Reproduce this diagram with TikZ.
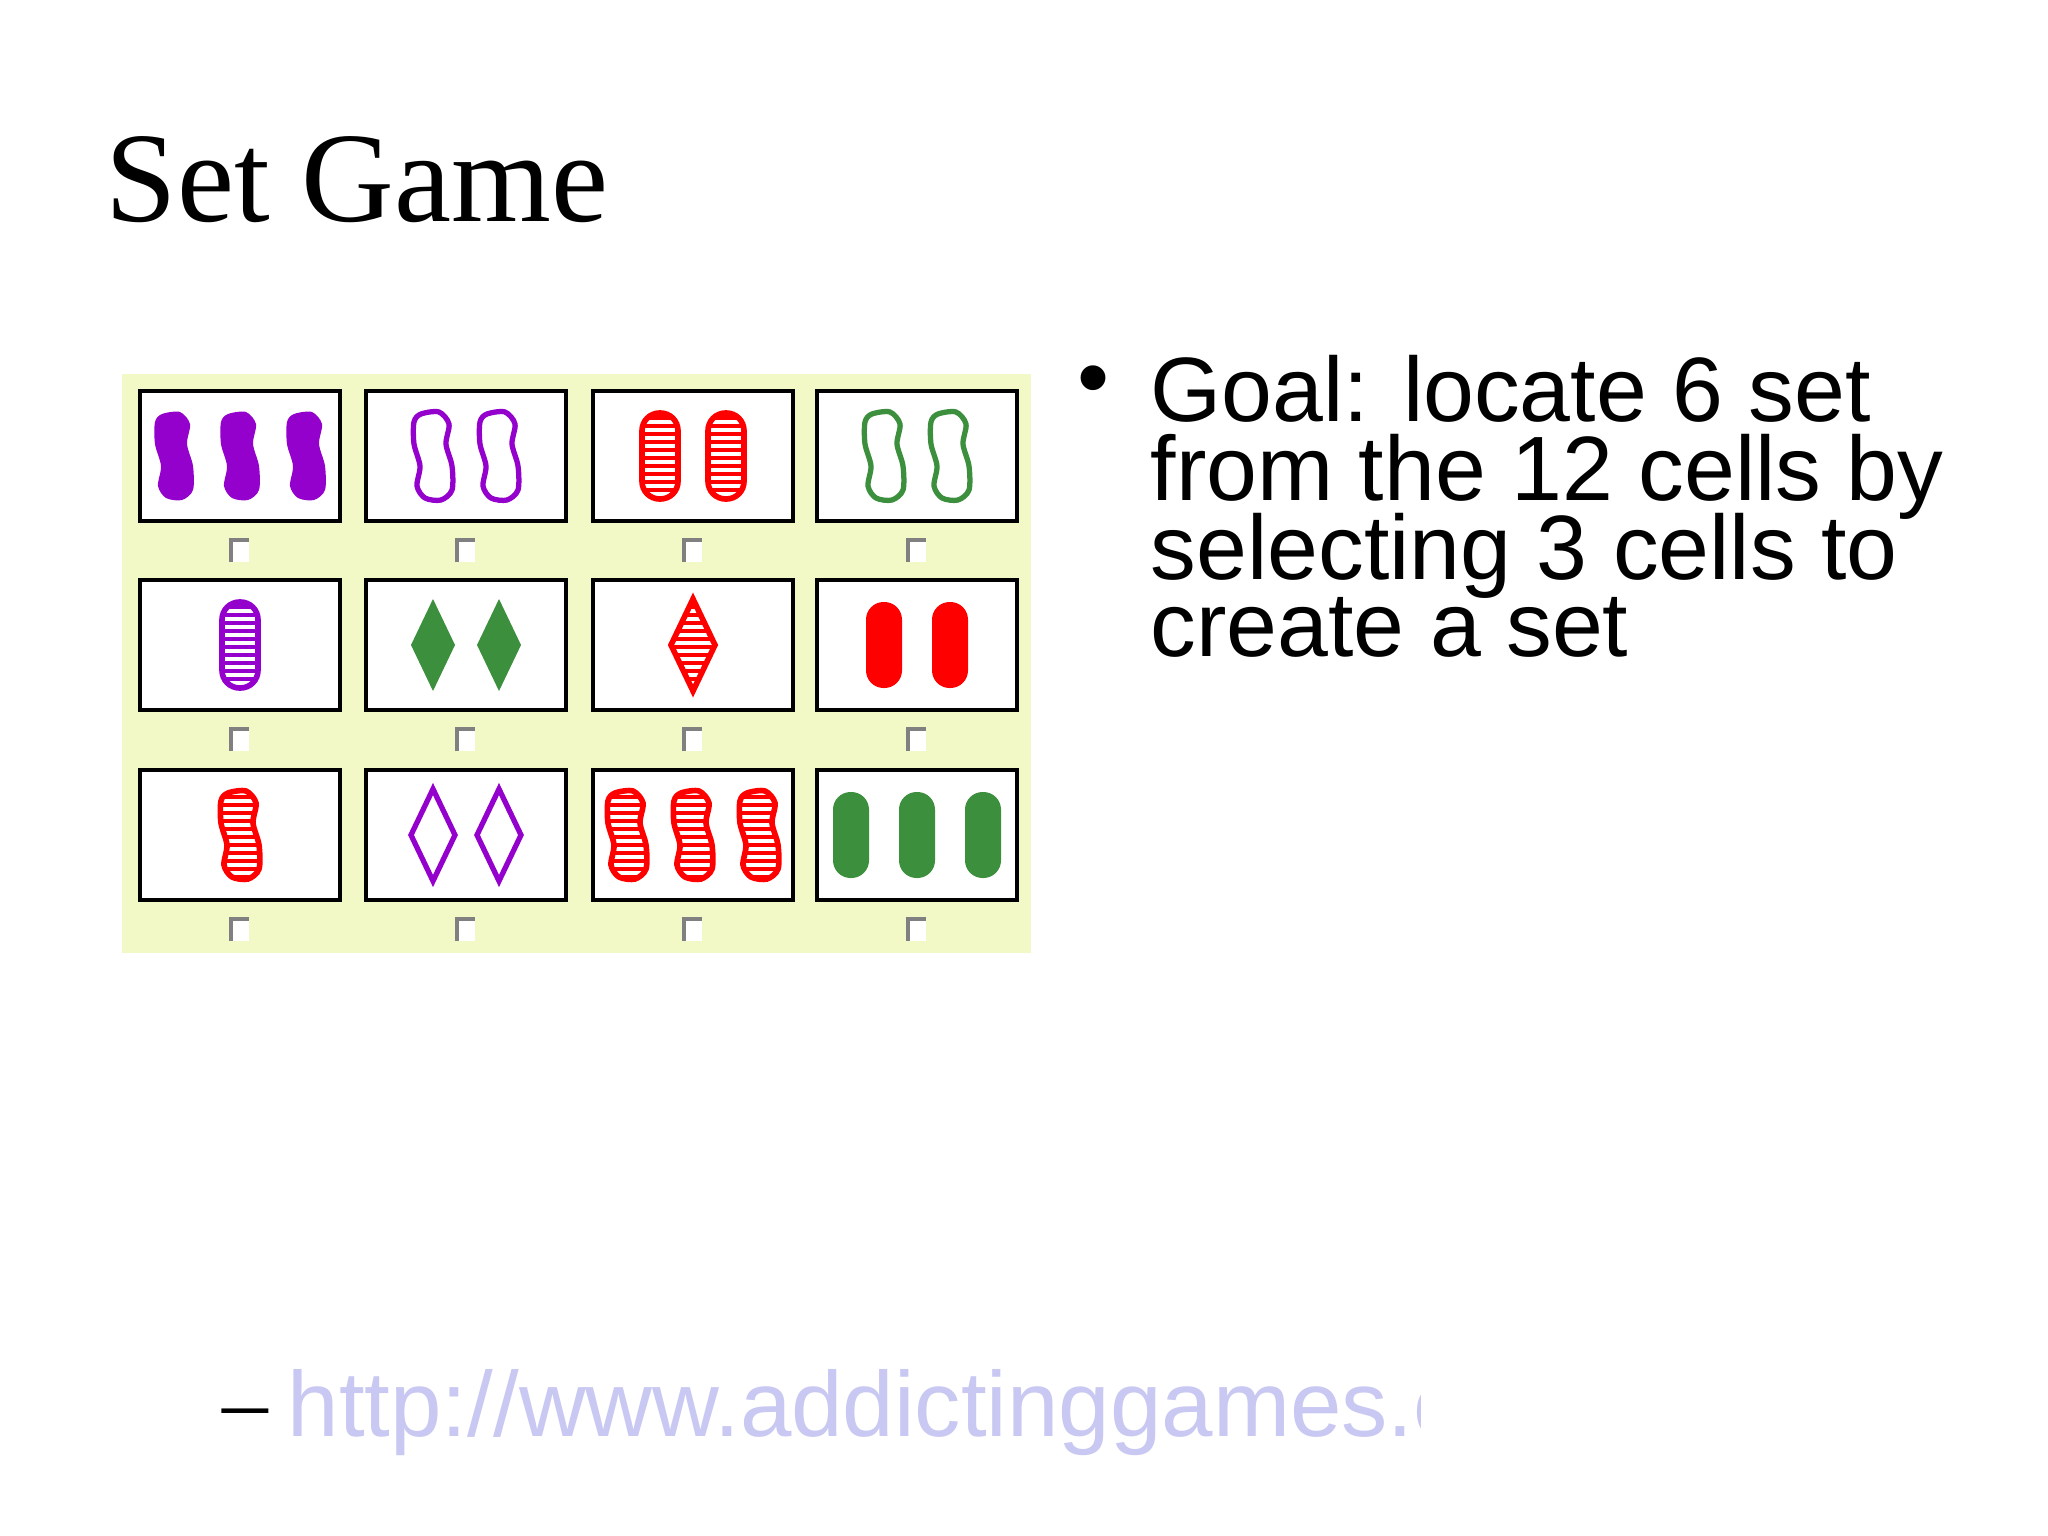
\documentclass[tikz,border=0pt]{standalone}
\usepackage{fontspec}
\setmainfont{Liberation Serif}
\newfontfamily\arialf{Liberation Sans}
\definecolor{sgpurple}{HTML}{9400CC}
\definecolor{sgred}{HTML}{FF0000}
\definecolor{sggreen}{HTML}{3C8F3C}
\definecolor{board}{HTML}{F2F8C6}
\definecolor{urlc}{HTML}{C8C8F2}
\def\shpS{plot[smooth cycle] coordinates{(-12,-42)(6,-44)(16,-32)(13,-12)(19,10)(19,34)(8,44)(-8,42)(-16,30)(-13,10)(-19,-12)(-19,-34)}}
\def\shpO{[rounded corners=5pt] (-18,-43) rectangle (18,43)}
\def\shpD{(0,-46)--(22,0)--(0,46)--(-22,0)--cycle}
\newcommand\drawsym[5]{%
 \begin{scope}[shift={(#1,#2)}]
 \expandafter\let\expandafter\curpath\csname shp#3\endcsname
 \ifcase#5\or
  \fill[#4] \curpath;
 \or
  \fill[white] \curpath;
  \draw[#4,line width=1.5pt] \curpath;
 \or
  \begin{scope}
  \fill[white] \curpath;
  \clip \curpath;
  \foreach \yy in {-48,-40,...,48} \fill[#4] (-30,\yy) rectangle (30,\yy+4);
  \end{scope}
  \draw[#4,line width=1.6pt] \curpath;
 \fi
 \end{scope}}
\newcommand\setcard[6]{% cx cy n color shape fill
 \draw[line width=1.1pt,fill=white] (#1-100,#2-65) rectangle (#1+100,#2+65);
 \ifcase#3\or
  \drawsym{#1}{#2}{#5}{#4}{#6}
 \or
  \drawsym{#1-33}{#2}{#5}{#4}{#6}\drawsym{#1+33}{#2}{#5}{#4}{#6}
 \or
  \drawsym{#1-66}{#2}{#5}{#4}{#6}\drawsym{#1}{#2}{#5}{#4}{#6}\drawsym{#1+66}{#2}{#5}{#4}{#6}
 \fi
 \fill[white] (#1-9,#2+84) rectangle (#1+9,#2+106);
 \draw[gray,line width=1pt] (#1-9,#2+106)--(#1-9,#2+84)--(#1+9,#2+84);}
\tikzset{goalline/.style={anchor=base west,inner sep=0,font=\arialf\fontsize{26}{30}\selectfont}}
\begin{document}
\begin{tikzpicture}[x=0.01cm,y=-0.01cm]
\useasboundingbox[fill=white] (0,0) rectangle (2048,1536);
\node[anchor=base west,inner sep=0,font=\fontsize{36.5}{44}\selectfont] (title) at (105,221) {Set Game};
\fill[board] (122,374) rectangle (1031,953);
\setcard{240}{456}{3}{sgpurple}{S}{1}
\setcard{466}{456}{2}{sgpurple}{S}{2}
\setcard{693}{456}{2}{sgred}{O}{3}
\setcard{917}{456}{2}{sggreen}{S}{2}
\setcard{240}{645}{1}{sgpurple}{O}{3}
\setcard{466}{645}{2}{sggreen}{D}{1}
\setcard{693}{645}{1}{sgred}{D}{3}
\setcard{917}{645}{2}{sgred}{O}{1}
\setcard{240}{835}{1}{sgred}{S}{3}
\setcard{466}{835}{2}{sgpurple}{D}{2}
\setcard{693}{835}{3}{sgred}{S}{3}
\setcard{917}{835}{3}{sggreen}{O}{1}
\node[goalline,anchor=base] (bul) at (1093,408) {•};
\node[goalline] (g1) at (1150,421) {Goal: locate 6 set};
\node[goalline] (g2) at (1150,500) {from the 12 cells by};
\node[goalline] (g3) at (1150,579) {selecting 3 cells to};
\node[goalline] (g4) at (1150,656) {create a set};
\node[anchor=base west,inner sep=0,font=\fontsize{26}{30}\selectfont] (dash) at (222,1432) {–};
\begin{scope}
\clip (280,1300) rectangle (1420,1480);
\node[anchor=base west,inner sep=0,text=urlc,font=\arialf\fontsize{26.3}{30}\selectfont] (url) at (287,1436) {http://www.addictinggames.com};
\end{scope}
\end{tikzpicture}
\end{document}
